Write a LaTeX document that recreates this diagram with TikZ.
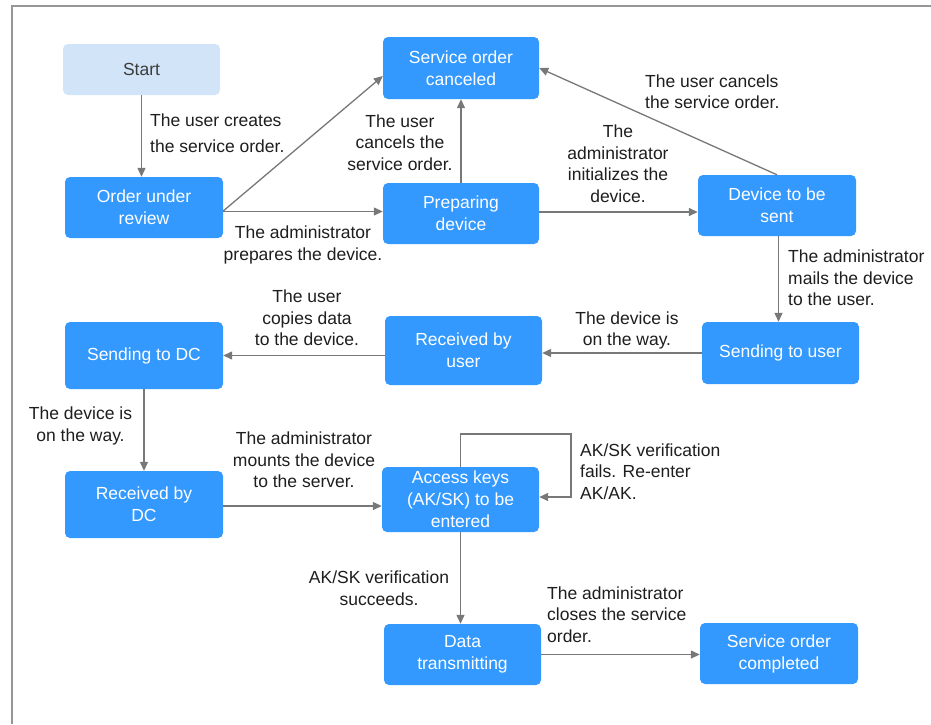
\documentclass[tikz,border=0pt]{standalone}
\usepackage{fontspec}
\setmainfont{Liberation Sans}
\usetikzlibrary{arrows.meta}
\definecolor{nodeblue}{RGB}{51,153,255}
\definecolor{startblue}{RGB}{209,228,248}
\definecolor{linegray}{RGB}{120,120,120}
\definecolor{framegray}{RGB}{150,150,150}
\definecolor{txtgray}{RGB}{30,30,30}
\definecolor{starttxt}{RGB}{60,60,60}
\tikzset{
  state/.style={rectangle, rounded corners=5pt, fill=nodeblue, text=white, align=center,
    font=\fontsize{17.5}{22}\selectfont, inner sep=0pt, minimum width=157pt},
  lbl/.style={text=txtgray, font=\fontsize{17.5}{21.5}\selectfont, inner sep=0pt},
  arr/.style={draw=linegray, line width=1.3pt, -{Triangle[length=9pt,width=8pt]}},
}
\begin{document}
\begin{tikzpicture}[x=1pt,y=-1pt]
\useasboundingbox (0,0) rectangle (931,724);
\fill[white] (0,0) rectangle (931,724);
\draw[framegray, line width=1.5pt] (12,724) -- (12,6) -- (931,6);

% nodes
\node[state, fill=startblue, text=starttxt, minimum height=51pt] (start) at (141.5,69.5) {Start};
\node[state, minimum width=158pt, minimum height=61pt] (review) at (144,207.5) {Order under\\review};
\node[state, minimum width=156pt, minimum height=62pt] (canceled) at (461,68) {Service order\\canceled};
\node[state, minimum width=156pt, minimum height=61pt] (prep) at (461,213.5) {Preparing\\device};
\node[state, minimum width=158pt, minimum height=61pt] (tosend) at (777,205.5) {Device to be\\sent};
\node[state, minimum height=62pt] (senduser) at (780.5,353) {Sending to user};
\node[state, minimum height=69pt] (recuser) at (463.5,350.5) {Received by\\user};
\node[state, minimum width=158pt, minimum height=67pt] (senddc) at (144,355.5) {Sending to DC};
\node[state, minimum width=158pt, minimum height=67pt] (recdc) at (144,504.5) {Received by\\DC};
\node[state, minimum height=65pt] (access) at (460.5,499.5) {Access keys\\(AK/SK) to be\\entered};
\node[state, minimum height=61pt] (data) at (462.5,654.5) {Data\\transmitting};
\node[state, minimum width=158pt, minimum height=61pt] (completed) at (779,653.5) {Service order\\completed};

% connectors
\draw[arr] (start.south) -- (start.south |- review.north);
\draw[arr] ([yshift=-3.5pt]review.east) -- ([yshift=-8pt]canceled.west);
\draw[arr] ([yshift=-4pt]review.east) -- ([yshift=-4pt]review.east -| prep.west);
\draw[arr] (prep.north) -- (canceled.south);
\draw[arr] ([yshift=1.5pt]prep.east) -- ([yshift=1.5pt]prep.east -| tosend.west);
\draw[arr] (tosend.north) -- (canceled.east);
\draw[arr] ([xshift=1.5pt]tosend.south) -- ([xshift=1.5pt]tosend.south |- senduser.north);
\draw[arr] (senduser.west) -- (senduser.west -| recuser.east);
\draw[arr] (recuser.west |- senddc.east) -- (senddc.east);
\draw[arr] (senddc.south) -- (recdc.north);
\draw[arr] ([yshift=-1.5pt]recdc.east) -- ([yshift=-1.5pt]recdc.east -| access.west);
\coordinate (loopc) at (571,434);
\draw[arr] (access.north) |- (loopc) |- ([yshift=2.5pt]access.east);
\draw[arr] (access.south) -- (access.south |- data.north);
\draw[arr] (data.east) -- (data.east -| completed.west);

% labels
\node[lbl, font=\fontsize{17.5}{25.5}\selectfont, align=left, anchor=west] (l1) at (150,133) {The user creates\\the service order.};
\node[lbl, align=center] (l2) at (303,245) {The administrator\\prepares the device.};
\node[lbl, align=center] (l3) at (400,142.5) {The user\\cancels the\\service order.};
\node[lbl, align=center] (l4) at (618,163.5) {The\\administrator\\initializes the\\device.};
\node[lbl, align=left, anchor=west] (l5) at (645,91.5) {The user cancels\\the service order.};
\node[lbl, align=left, anchor=west] (l6) at (788,278) {The administrator\\mails the device\\to the user.};
\node[lbl, align=center] (l7) at (627,330.5) {The device is\\on the way.};
\node[lbl, align=center] (l8) at (307,318) {The user\\copies data\\to the device.};
\node[lbl, align=center] (l9) at (80.5,426) {The device is\\on the way.};
\node[lbl, align=center] (l10) at (304,460) {The administrator\\mounts the device\\to the server.};
\node[lbl, align=left, anchor=west] (l11) at (580,471.5) {AK/SK verification\\fails. Re-enter\\AK/AK.};
\node[lbl, align=center] (l12) at (379,588) {AK/SK verification\\succeeds.};
\node[lbl, align=left, anchor=west] (l13) at (547,614.5) {The administrator\\closes the service\\order.};
\end{tikzpicture}
\end{document}
